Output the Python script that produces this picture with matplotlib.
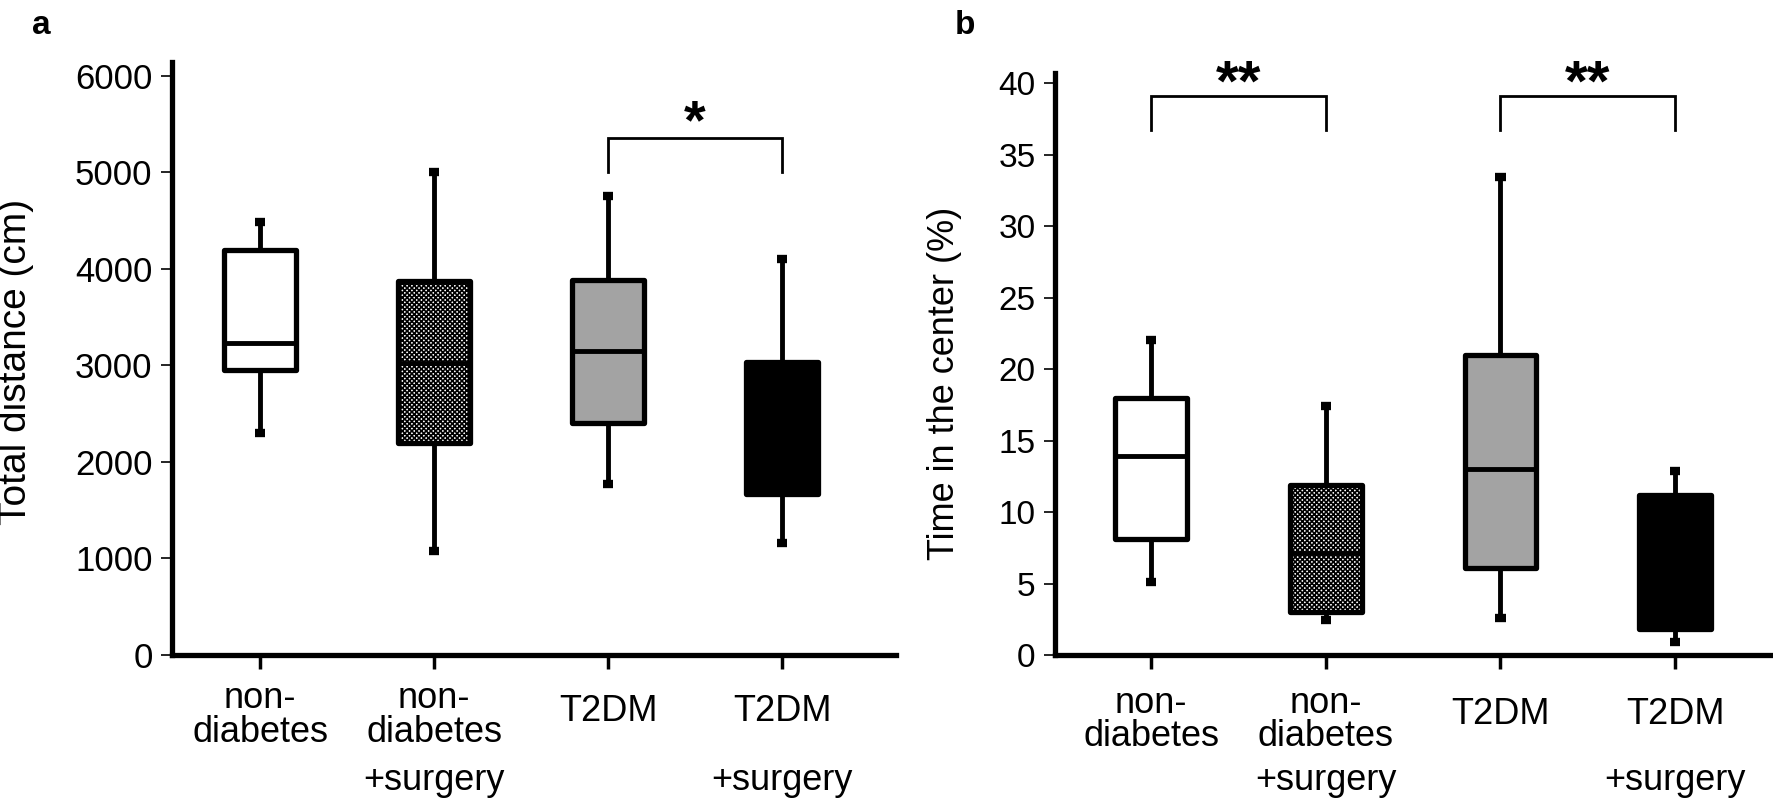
import numpy as np
import matplotlib.pyplot as plt

plt.rcParams['font.family'] = ['Liberation Sans', 'DejaVu Sans']
plt.rcParams['hatch.linewidth'] = 1.2
plt.rcParams['hatch.color'] = 'black'

# groups and box statistics
groups = ['non-diabetes', 'non-diabetes +surgery', 'T2DM', 'T2DM +surgery']
label_lines = [['non-', 'diabetes'], ['non-', 'diabetes', '+surgery'],
               ['T2DM'], ['T2DM', '+surgery']]

dist_lo = [2300, 1080, 1770, 1160]
dist_q1 = [2950, 2200, 2400, 1670]
dist_med = [3230, 3030, 3150, 2400]
dist_q3 = [4200, 3880, 3890, 3040]
dist_hi = [4490, 5000, 4760, 4100]

center_lo = [5.1, 2.45, 2.6, 0.9]
center_q1 = [8.1, 3.0, 6.1, 1.85]
center_med = [13.9, 7.1, 13.0, 6.0]
center_q3 = [18.0, 11.9, 20.95, 11.2]
center_hi = [22.0, 17.4, 33.4, 12.85]

dist_ticks = [0, 1000, 2000, 3000, 4000, 5000, 6000]
center_ticks = [0, 5, 10, 15, 20, 25, 30, 35, 40]

# significance brackets: (left group, right group, bar height, leg bottom, text)
sig_a = [(3, 4, 5360, 5010, '*')]
sig_b = [(1, 2, 39.1, 36.7, '**'), (3, 4, 39.1, 36.7, '**')]

face = ['white', 'white', '#a3a3a3', 'black']
hatches = [None, 'xxxxxxx', None, None]
pos = [1, 2, 3, 4]

W, H = 1773, 799
fig = plt.figure(figsize=(W / 100, H / 100), dpi=100)
ax_a = fig.add_axes([172 / W, 144 / H, 724 / W, 593 / H])
ax_b = fig.add_axes([1055 / W, 144 / H, 718 / W, 582 / H])


def draw_boxes(ax, lo, q1, med, q3, hi):
    stats = []
    for i in range(len(lo)):
        stats.append(dict(whislo=lo[i], q1=q1[i], med=med[i], q3=q3[i],
                          whishi=hi[i], fliers=[]))
    bp = ax.bxp(stats, positions=pos, widths=0.41, patch_artist=True,
                showfliers=False, capwidths=0.06,
                boxprops=dict(linewidth=3.8, edgecolor='black', joinstyle='round'),
                whiskerprops=dict(linewidth=3.5, color='black'),
                capprops=dict(linewidth=6, color='black', solid_capstyle='butt'),
                medianprops=dict(linewidth=3.5, color='black'))
    for patch, fc, h in zip(bp['boxes'], face, hatches):
        patch.set_facecolor(fc)
        if h:
            patch.set_hatch(h)


def style_axes(ax, offsets, ysize):
    for s in ['top', 'right']:
        ax.spines[s].set_visible(False)
    for s in ['left', 'bottom']:
        ax.spines[s].set_linewidth(3.8)
    ax.tick_params(axis='y', length=8, width=1.2, labelsize=ysize, pad=6)
    ax.tick_params(axis='x', length=10, width=2.5, labelbottom=False)
    ax.set_xticks(pos)
    for x, lines, offs in zip(pos, label_lines, offsets):
        for line, off in zip(lines, offs):
            ax.annotate(line, xy=(x, 0), xycoords=('data', 'axes fraction'),
                        xytext=(0, -off), textcoords='offset points',
                        ha='center', va='center', fontsize=26)


def draw_sig(ax, sigs, star_off, size):
    for g1, g2, top, bottom, txt in sigs:
        ax.plot([g1, g1, g2, g2], [bottom, top, top, bottom], color='black',
                lw=2, solid_joinstyle='miter')
        ax.text((g1 + g2) / 2, top + star_off, txt, ha='center', va='center',
                fontsize=size, fontweight='bold')


draw_boxes(ax_a, dist_lo, dist_q1, dist_med, dist_q3, dist_hi)
ax_a.set_xlim(0.494, 4.655)
ax_a.set_ylim(0, 6145)
ax_a.set_yticks(dist_ticks)
style_axes(ax_a, [[31, 56], [31, 56, 90], [41], [41, 90]], 25)
draw_sig(ax_a, sig_a, 140, 40)
ax_a.set_ylabel('Total distance (cm)', fontsize=28)
ax_a.yaxis.set_label_coords(-0.19, 0.494)

draw_boxes(ax_b, center_lo, center_q1, center_med, center_q3, center_hi)
ax_b.set_xlim(0.45, 4.56)
ax_b.set_ylim(0, 40.7)
ax_b.set_yticks(center_ticks)
style_axes(ax_b, [[35, 59], [35, 59, 90], [43], [43, 90]], 24)
draw_sig(ax_b, sig_b, 0.75, 42)
ax_b.set_ylabel('Time in the center (%)', fontsize=26)
ax_b.yaxis.set_label_coords(-0.13, 0.466)

fig.text(32 / W, 1 - 25 / H, 'a', fontsize=24, fontweight='bold', va='center')
fig.text(955 / W, 1 - 25 / H, 'b', fontsize=24, fontweight='bold', va='center')

fig.savefig('out.png', dpi=100)
